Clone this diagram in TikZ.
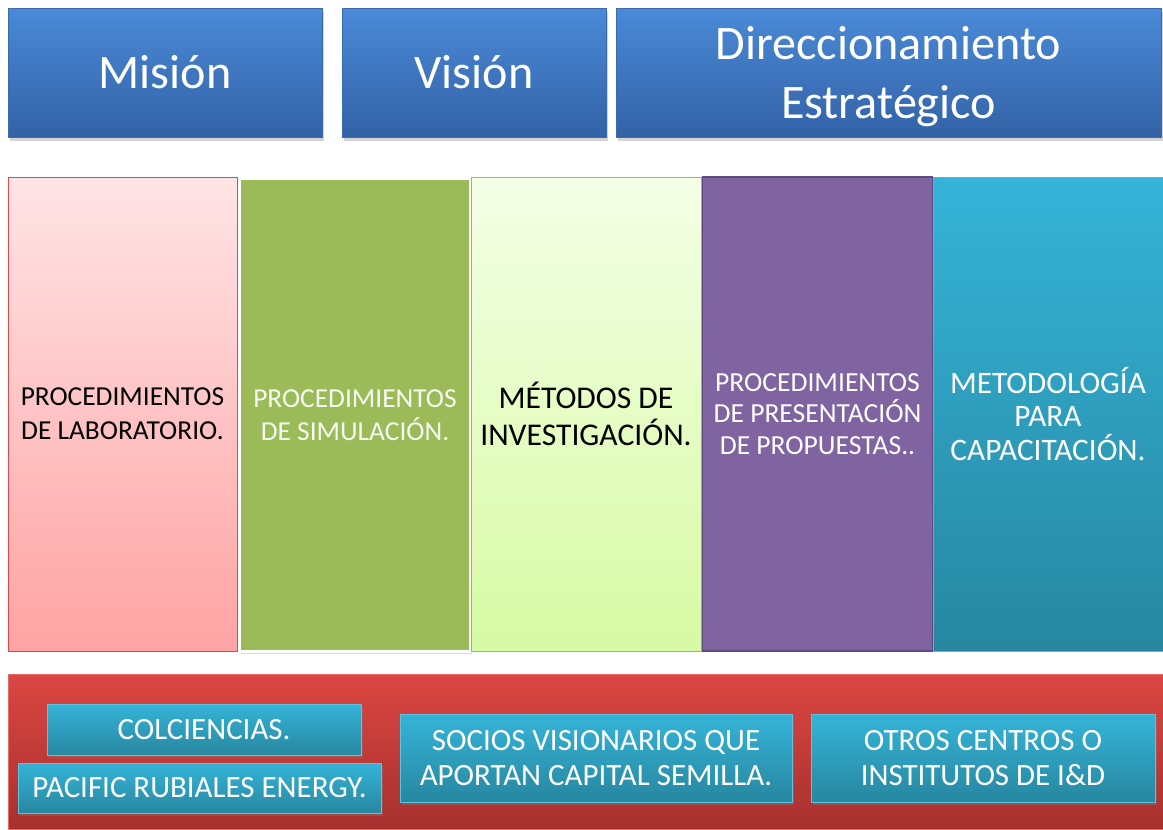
\documentclass[tikz,border=0pt]{standalone}
\usepackage{fontspec}
\setmainfont{Carlito}
\usepackage{tikz}
\usetikzlibrary{positioning, shadows, calc}

\definecolor{topblue}{HTML}{4A8AD8}
\definecolor{botblue}{HTML}{3362A6}
\definecolor{lineblue}{HTML}{3A6BB0}
\definecolor{pinktop}{HTML}{FFE4E6}
\definecolor{pinkbot}{HTML}{FFA3A3}
\definecolor{pinkline}{HTML}{E04848}
\definecolor{olive}{HTML}{9BBB59}
\definecolor{limetop}{HTML}{F4FFE6}
\definecolor{limebot}{HTML}{D7FAA4}
\definecolor{violet}{HTML}{8064A2}
\definecolor{violetline}{HTML}{5E4A80}
\definecolor{tealtop}{HTML}{35B4D8}
\definecolor{tealbot}{HTML}{2787A0}
\definecolor{redtop}{HTML}{DC4642}
\definecolor{redbot}{HTML}{A6302E}

\begin{document}
\begin{tikzpicture}[x=0.02cm, y=-0.02cm,
    topbox/.style={draw=lineblue, top color=topblue, bottom color=botblue, text=white, align=center, font=\fontsize{27.4}{33.5}\selectfont, inner sep=0pt, drop shadow={opacity=0.35, shadow xshift=0.4mm, shadow yshift=-0.8mm}},
    column/.style={inner sep=0pt, align=center, font=\fontsize{15.6}{18.5}\selectfont},
    partner/.style={draw=tealtop!80!white, top color=tealtop, bottom color=tealbot, text=white, align=center, font=\fontsize{17.6}{20}\selectfont, inner sep=0pt, drop shadow={opacity=0.35, shadow xshift=0.4mm, shadow yshift=-0.6mm}}]

    \useasboundingbox (0,0) rectangle (1163,829);

    % fila superior
    \node[topbox, minimum width=6.28cm, minimum height=2.58cm] (mision) at (165,72.5) {Misión};
    \node[topbox, minimum width=5.28cm, minimum height=2.58cm] (vision) at (474,72.5) {Visión};
    \node[topbox, minimum width=10.9cm, minimum height=2.58cm, text height=57pt] (direccion) at (888.5,72.5) {Direccionamiento\\Estratégico};

    % columnas
    \node[column, draw=pinkline, top color=pinktop, bottom color=pinkbot, minimum width=4.58cm, minimum height=9.48cm, font=\fontsize{15.6}{19.2}\selectfont] (lab) at (122.5,414) {PROCEDIMIENTOS\\DE LABORATORIO.};
    \node[column, draw=white, line width=1.2pt, fill=olive, text=white!92!olive, minimum width=4.62cm, minimum height=9.46cm, drop shadow={opacity=0.3, shadow xshift=0.3mm, shadow yshift=-0.5mm}] (sim) at (355,415) {PROCEDIMIENTOS\\DE SIMULACIÓN.};
    \node[column, draw=olive, top color=limetop, bottom color=limebot, minimum width=4.6cm, minimum height=9.48cm, font=\fontsize{18}{21}\selectfont] (metodos) at (586,414) {MÉTODOS DE\\INVESTIGACIÓN.};
    \node[column, draw=violetline, line width=1pt, fill=violet, text=white, minimum width=4.6cm, minimum height=9.48cm, font=\fontsize{15.7}{17.8}\selectfont] (propuestas) at (817.5,414) {PROCEDIMIENTOS\\DE PRESENTACIÓN\\DE PROPUESTAS..};
    \node[column, draw=tealtop!90!white, top color=tealtop, bottom color=tealbot, text=white, minimum width=4.6cm, minimum height=9.48cm, font=\fontsize{17.8}{19.3}\selectfont] (capacitacion) at (1048,414) {METODOLOGÍA\\PARA\\CAPACITACIÓN.};

    % aliados
    \node[draw=redtop!80!white, top color=redtop, bottom color=redbot, minimum width=23.1cm, minimum height=3.1cm, inner sep=0pt] (aliados) at (585.5,752) {};
    \node[partner, minimum width=6.28cm, minimum height=1.02cm] (colciencias) at (204,729.5) {COLCIENCIAS.};
    \node[partner, minimum width=7.26cm, minimum height=1.0cm] (pacific) at (199.5,788) {PACIFIC RUBIALES ENERGY.};
    \node[partner, minimum width=7.84cm, minimum height=1.76cm] (socios) at (596,758) {SOCIOS VISIONARIOS QUE\\APORTAN CAPITAL SEMILLA.};
    \node[partner, minimum width=6.88cm, minimum height=1.76cm] (otros) at (983,758) {OTROS CENTROS O\\INSTITUTOS DE I\&D};
\end{tikzpicture}
\end{document}
